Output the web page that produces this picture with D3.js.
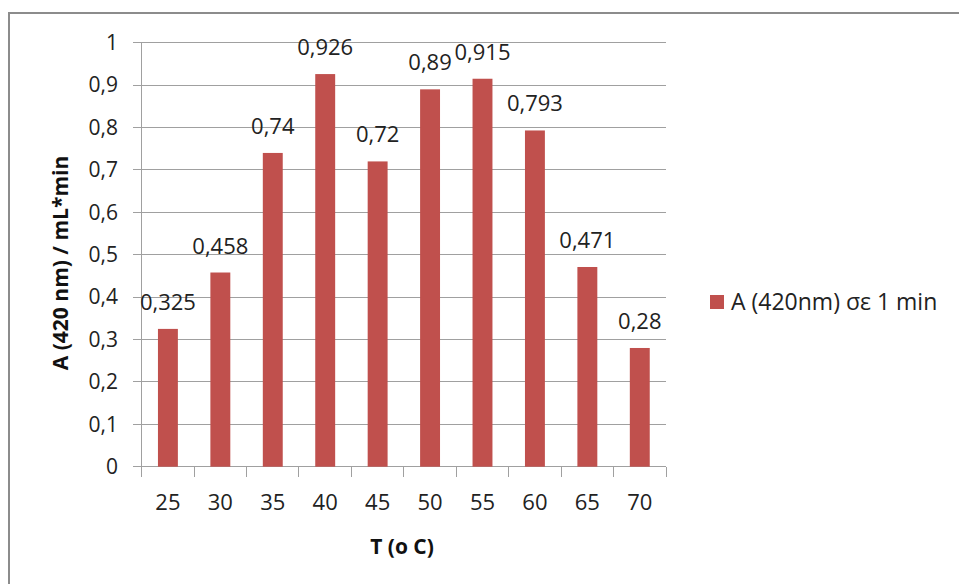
<!DOCTYPE html>
<html><head><meta charset="utf-8">
<script src="https://cdn.jsdelivr.net/npm/d3@7"></script>
<style>body{margin:0;background:#fff}svg{display:block}text{font-family:"Open Sans","Liberation Sans",sans-serif}</style>
</head><body><svg id="c" width="959" height="584"></svg>
<script>
const categories = ["25","30","35","40","45","50","55","60","65","70"];
const values = [0.325,0.458,0.74,0.926,0.72,0.89,0.915,0.793,0.471,0.28];
const valueLabels = ["0,325","0,458","0,74","0,926","0,72","0,89","0,915","0,793","0,471","0,28"];
const yTicks = [0,0.1,0.2,0.3,0.4,0.5,0.6,0.7,0.8,0.9,1];
const yTickLabels = ["0","0,1","0,2","0,3","0,4","0,5","0,6","0,7","0,8","0,9","1"];
const seriesName = "A (420nm) σε 1 min";
const yTitle = "A (420 nm) / mL*min";
const xTitle = "T (o C)";

const svg = d3.select("#c");
const color = "#C0504D", grid = "#a0a0a0", txt = "#222";
svg.append("rect").attr("x",9).attr("y",13).attr("width",960).attr("height",600)
  .attr("fill","none").attr("stroke","#8c8c8c").attr("stroke-width",2);

const L=141.7, R=666, T=42.7, B=466.7;
const x = d3.scaleBand().domain(categories).range([L,R]).paddingInner(0).paddingOuter(0);
const y = d3.scaleLinear().domain([0,1]).range([B,T]);

// gridlines
svg.append("g").selectAll("line").data(yTicks).join("line")
  .attr("x1",L-9).attr("x2",R).attr("y1",d=>y(d)).attr("y2",d=>y(d))
  .attr("stroke",grid).attr("stroke-width",1).attr("shape-rendering","crispEdges");
// y labels
svg.append("g").selectAll("text").data(yTicks).join("text")
  .attr("x",118).attr("y",d=>y(d)).attr("dy","0.35em").attr("text-anchor","end")
  .attr("font-size",21).attr("fill",txt).text((d,i)=>yTickLabels[i]);
// axis lines
svg.append("line").attr("x1",L).attr("x2",L).attr("y1",T).attr("y2",B+10).attr("stroke",grid).attr("shape-rendering","crispEdges");
const bounds = categories.map(c=>x(c)).concat([R]);
svg.append("g").selectAll("line").data(bounds).join("line")
  .attr("x1",d=>d).attr("x2",d=>d).attr("y1",B).attr("y2",B+10)
  .attr("stroke",grid).attr("shape-rendering","crispEdges");
// bars
const bw = x.bandwidth()*0.38;
svg.append("g").selectAll("rect").data(values).join("rect")
  .attr("x",(d,i)=>x(categories[i])+x.bandwidth()/2-bw/2).attr("width",bw)
  .attr("y",d=>y(d)).attr("height",d=>B-y(d)).attr("fill",color);
// value labels
svg.append("g").selectAll("text").data(values).join("text")
  .attr("x",(d,i)=>x(categories[i])+x.bandwidth()/2).attr("y",d=>y(d)-19)
  .attr("text-anchor","middle").attr("font-size",22).attr("fill",txt).text((d,i)=>valueLabels[i]);
// x labels
svg.append("g").selectAll("text").data(categories).join("text")
  .attr("x",d=>x(d)+x.bandwidth()/2).attr("y",502).attr("dy","0.35em")
  .attr("text-anchor","middle").attr("font-size",22).attr("fill",txt).text(d=>d);
// titles
svg.append("text").attr("x",402).attr("y",547).attr("dy","0.35em").attr("text-anchor","middle")
  .attr("font-size",21).attr("font-weight","bold").attr("fill","#111").text(xTitle);
svg.append("text").attr("transform","translate(61,263) rotate(-90)").attr("dy","0.35em").attr("text-anchor","middle")
  .attr("font-size",21).attr("font-weight","bold").attr("fill","#111").text(yTitle);
// legend
svg.append("rect").attr("x",710).attr("y",295).attr("width",14).attr("height",14).attr("fill",color);
svg.append("text").attr("x",731).attr("y",302).attr("dy","0.35em").attr("font-size",23).attr("fill",txt).text(seriesName);
</script></body></html>
